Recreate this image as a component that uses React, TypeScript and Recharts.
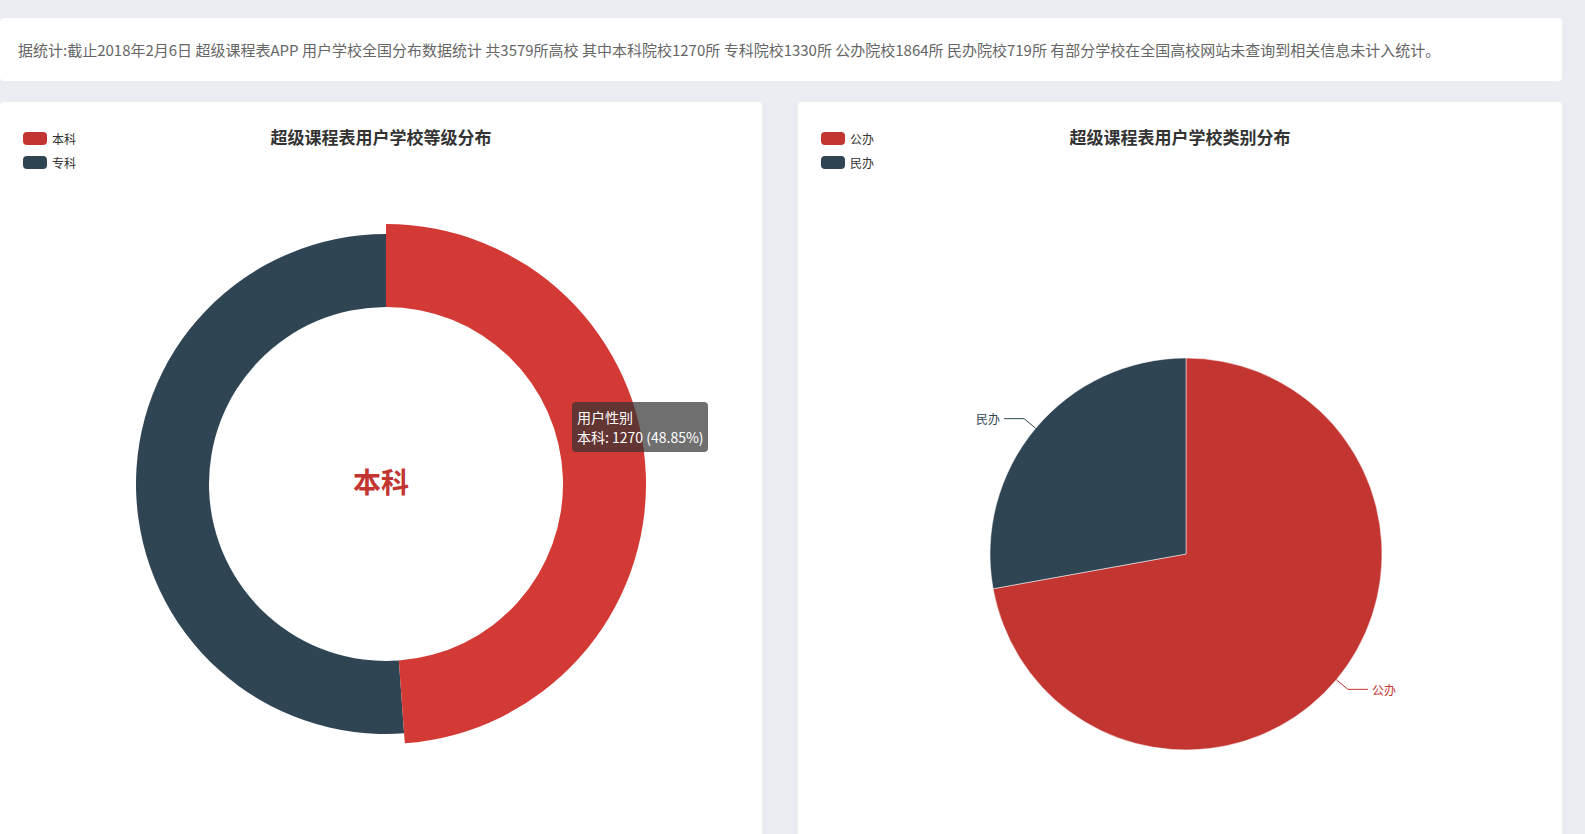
import React from 'react';
import { PieChart, Pie, Cell } from 'recharts';

const levelNames = ['本科', '专科'];
const levelValues = [1270, 1330];
const typeNames = ['公办', '民办'];
const typeValues = [1864, 719];
const colors = ['#c23531', '#2f4554'];
const hoverRed = '#d43a35';

const levelData = levelNames.map((n, i) => ({ name: n, value: levelValues[i] }));
const typeData = typeNames.map((n, i) => ({ name: n, value: typeValues[i] }));
const RAD = Math.PI / 180;
const font = '"Microsoft YaHei","Noto Sans CJK SC",sans-serif';

const renderLabel = (p: any) => {
  const { cx, cy, midAngle, outerRadius, index, name } = p;
  const c = Math.cos(-midAngle * RAD), s = Math.sin(-midAngle * RAD);
  const x1 = cx + outerRadius * c, y1 = cy + outerRadius * s;
  const x2 = cx + (outerRadius + 15) * c, y2 = cy + (outerRadius + 15) * s;
  const dir = c >= 0 ? 1 : -1;
  const x3 = x2 + dir * 20;
  const col = colors[index];
  return (
    <g>
      <path d={`M${x1},${y1}L${x2},${y2}L${x3},${y2}`} stroke={col} fill="none" strokeWidth={1} />
      <text x={x3 + dir * 4} y={y2} fill={col} fontSize={12} textAnchor={dir > 0 ? 'start' : 'end'} dominantBaseline="central" fontFamily={font}>{name}</text>
    </g>
  );
};

const Legend = ({ names }: { names: string[] }) => (
  <div style={{ position: 'absolute', left: 23, top: 24 }}>
    {names.map((n, i) => (
      <div key={n} style={{ display: 'flex', alignItems: 'center', height: 24 }}>
        <div style={{ width: 24, height: 13, borderRadius: 4, background: colors[i], marginRight: 5 }} />
        <span style={{ fontSize: 12, color: '#333' }}>{n}</span>
      </div>
    ))}
  </div>
);

const Title = ({ t }: { t: string }) => (
  <div style={{ position: 'absolute', left: 0, width: '100%', top: 22, textAlign: 'center', fontSize: 17, fontWeight: 'bold', color: '#333' }}>{t}</div>
);

export default function App() {
  return (
    <div style={{ position: 'absolute', left: 0, top: 0, width: 1585, height: 834, background: '#eaedf1', overflow: 'hidden', fontFamily: font }}>
      <div style={{ position: 'absolute', left: 0, top: 18, width: 1562, height: 63, background: '#fff', borderRadius: 4 }}>
        <div style={{ position: 'absolute', left: 18, top: 21, fontSize: 15, color: '#666', whiteSpace: 'nowrap' }}>
          据统计:截止2018年2月6日 超级课程表APP 用户学校全国分布数据统计 共3579所高校 其中本科院校1270所 专科院校1330所 公办院校1864所 民办院校719所 有部分学校在全国高校网站未查询到相关信息未计入统计。
        </div>
      </div>
      <div style={{ position: 'absolute', left: 0, top: 102, width: 762, height: 760, background: '#fff', borderRadius: 4 }}>
        <Legend names={levelNames} />
        <Title t="超级课程表用户学校等级分布" />
        <PieChart width={762} height={732} style={{ position: 'absolute', left: 0, top: 0 }}>
          <Pie data={levelData} dataKey="value" cx={381} cy={377} innerRadius={177} outerRadius={250} startAngle={90} endAngle={-270} stroke="none" isAnimationActive={false}>
            {levelData.map((d, i) => <Cell key={i} fill={i === 1 ? colors[1] : 'none'} />)}
          </Pie>
          <Pie data={levelData} dataKey="value" cx={381} cy={377} innerRadius={177} outerRadius={260} startAngle={90} endAngle={-270} stroke="none" isAnimationActive={false}>
            {levelData.map((d, i) => <Cell key={i} fill={i === 0 ? hoverRed : 'none'} />)}
          </Pie>
          <text x={381} y={379} textAnchor="middle" dominantBaseline="central" fontSize={28} fontWeight="bold" fill={colors[0]} fontFamily={font}>本科</text>
        </PieChart>
        <div style={{ position: 'absolute', left: 572, top: 300, width: 126, padding: '5px 5px', background: 'rgba(50,50,50,0.7)', borderRadius: 4, color: '#fff', fontSize: 14, lineHeight: '20px', whiteSpace: 'nowrap' }}>
          用户性别<br />本科: 1270 (48.85%)
        </div>
      </div>
      <div style={{ position: 'absolute', left: 798, top: 102, width: 764, height: 760, background: '#fff', borderRadius: 4 }}>
        <Legend names={typeNames} />
        <Title t="超级课程表用户学校类别分布" />
        <PieChart width={764} height={732} style={{ position: 'absolute', left: 0, top: 0 }}>
          <Pie data={typeData} dataKey="value" cx={383} cy={447} outerRadius={196} startAngle={90} endAngle={-270} stroke="#fff" strokeWidth={0.5} label={renderLabel} labelLine={false} isAnimationActive={false}>
            {typeData.map((d, i) => <Cell key={i} fill={colors[i]} />)}
          </Pie>
        </PieChart>
      </div>
    </div>
  );
}
